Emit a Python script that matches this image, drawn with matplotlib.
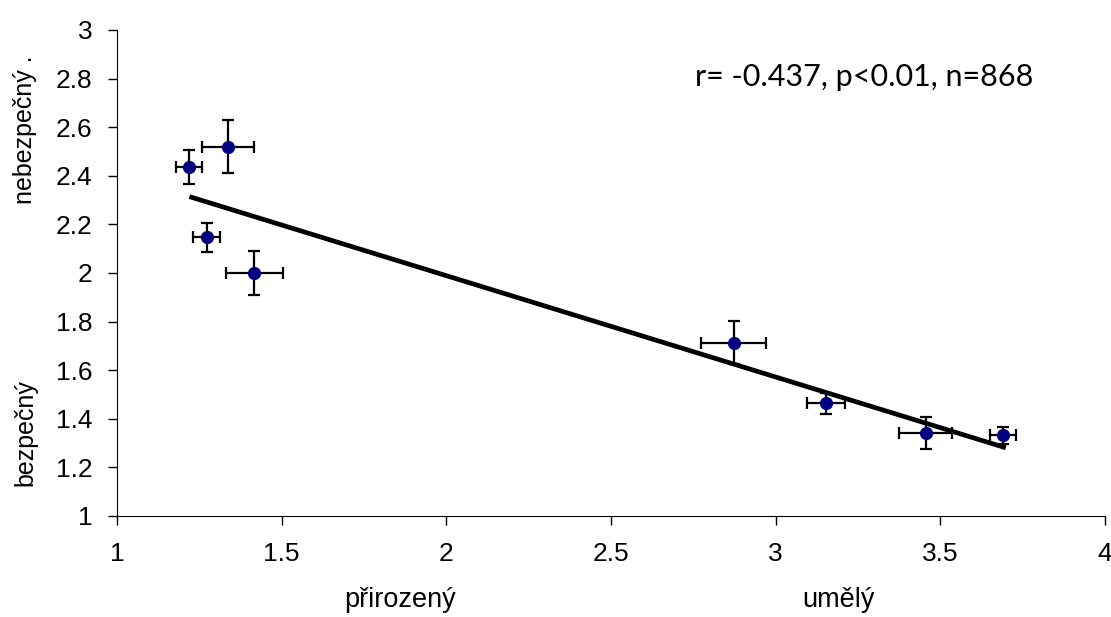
import matplotlib
matplotlib.use('Agg')
import matplotlib.pyplot as plt
import numpy as np

plt.rcParams['font.family'] = ['Liberation Sans', 'DejaVu Sans']

# means of each item (x = prirozeny/umely, y = bezpecny/nebezpecny)
x_vals = [1.219, 1.336, 1.272, 1.417, 2.872, 3.153, 3.456, 3.690]
y_vals = [2.436, 2.520, 2.147, 2.001, 1.713, 1.464, 1.340, 1.333]
x_err = [0.040, 0.079, 0.042, 0.087, 0.099, 0.059, 0.080, 0.040]
y_err = [0.070, 0.110, 0.060, 0.090, 0.089, 0.043, 0.066, 0.035]

# linear trend
trend_x = [1.227, 3.692]
trend_slope = -0.417
trend_icpt = 2.823

x_ticks = [1, 1.5, 2, 2.5, 3, 3.5, 4]
y_ticks = [1, 1.2, 1.4, 1.6, 1.8, 2, 2.2, 2.4, 2.6, 2.8, 3]

fig = plt.figure(figsize=(11.11, 6.17), dpi=100)
ax = fig.add_axes([0.1053, 0.1637, 0.8893, 0.7877])

tx = np.array(trend_x)
ax.plot(tx, trend_icpt + trend_slope * tx, color='black', lw=3.4, zorder=2)

ax.errorbar(x_vals, y_vals, xerr=x_err, yerr=y_err, fmt='o', color='#000080',
            ms=8.5, ecolor='black', elinewidth=1.6, capsize=4, capthick=1.6,
            zorder=3)

ax.set_xlim(1, 4)
ax.set_ylim(1, 3)
ax.set_xticks(x_ticks)
ax.set_xticklabels([f'{t:g}' for t in x_ticks])
ax.set_yticks(y_ticks)
ax.set_yticklabels([f'{t:g}' for t in y_ticks])
ax.spines['top'].set_visible(False)
ax.spines['right'].set_visible(False)
ax.tick_params(direction='out', length=6.5, width=1, labelsize=19)
ax.tick_params(axis='x', pad=12)
ax.tick_params(axis='y', pad=11)

fig.text(864 / 1111, 1 - 77 / 617, 'r= -0.437, p<0.01, n=868',
         family=['Lato', 'DejaVu Sans'], ha='center', va='center', fontsize=22)

fig.text(400 / 1111, 1 - 600 / 617, 'přirozený', ha='center', va='center', fontsize=19.5)
fig.text(838 / 1111, 1 - 600 / 617, 'umělý', ha='center', va='center', fontsize=19.5)
fig.text(25 / 1111, 1 - 130 / 617, 'nebezpečný .', ha='center', va='center',
         rotation=90, fontsize=18)
fig.text(25 / 1111, 1 - 433 / 617, 'bezpečný', ha='center', va='center',
         rotation=90, fontsize=18)

fig.savefig('out.png', dpi=100)
